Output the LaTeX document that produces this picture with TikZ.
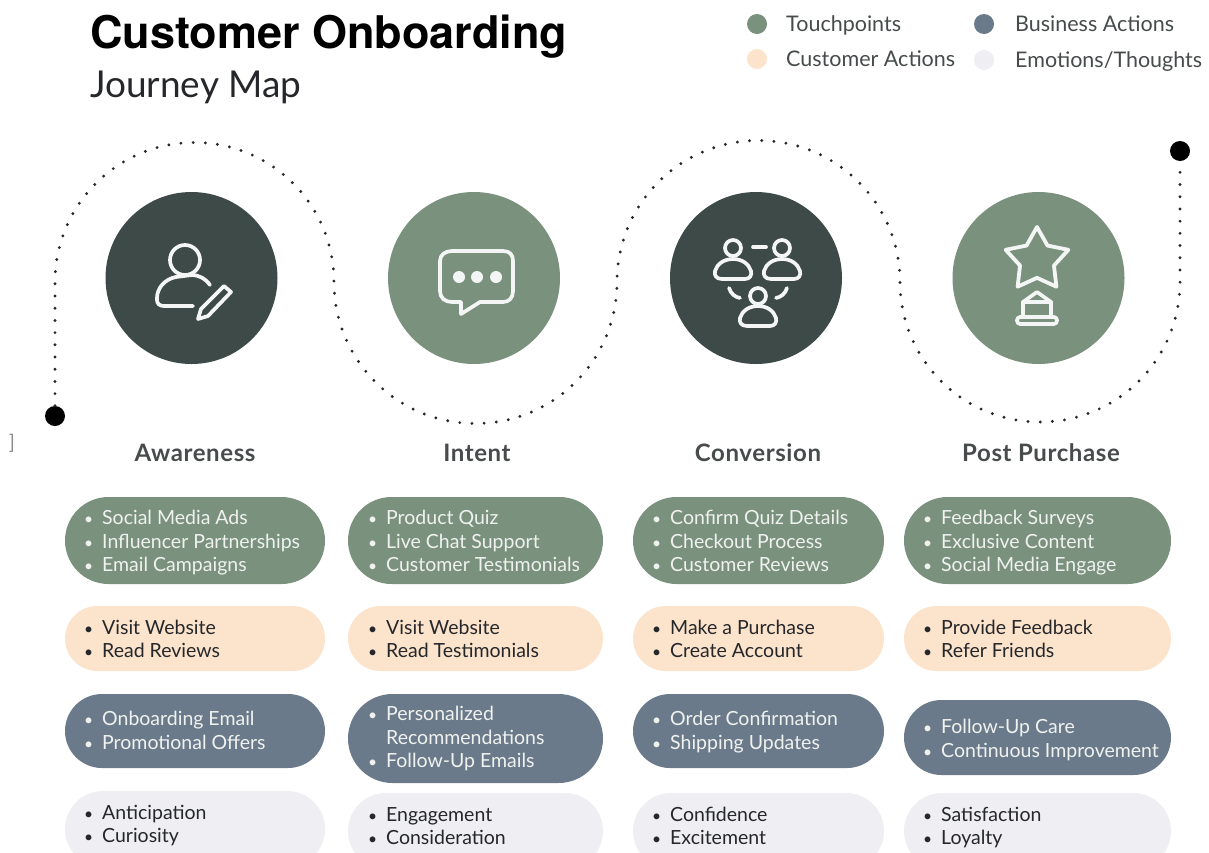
\documentclass[tikz,border=0pt]{standalone}
\usepackage{fontspec}
\setmainfont{Lato}
\newfontfamily\titlefont{TeX Gyre Heros}
\newfontfamily\headfont[LetterSpace=2.5]{Lato}
\usetikzlibrary{shapes.misc,shapes.geometric}
\definecolor{dark}{HTML}{3D4A48}
\definecolor{sage}{HTML}{7A917D}
\definecolor{slateb}{HTML}{6B7A8A}
\definecolor{peach}{HTML}{FBE3CC}
\definecolor{mist}{HTML}{EEEEF3}
\definecolor{ink}{HTML}{25272A}
\definecolor{head}{HTML}{474B4C}
\newcommand{\bl}{\strut\makebox[18pt][l]{\scalebox{0.8}{\textbullet}}}
\newcommand{\nb}{\strut\makebox[18pt][l]{}}
\tikzset{
  pill/.style={rounded rectangle,draw=none,inner sep=0pt},
  greenpill/.style={pill,fill=sage},
  peachpill/.style={pill,fill=peach},
  bluepill/.style={pill,fill=slateb},
  greypill/.style={pill,fill=mist},
  ltxt/.style={anchor=west,yshift=-2.7pt,align=left,inner sep=0pt,text=white!88!sage,font=\fontsize{19.5}{23.4}\selectfont},
  dtxt/.style={anchor=west,yshift=-2.7pt,align=left,inner sep=0pt,text=ink,font=\fontsize{19.5}{23.4}\selectfont},
  stage/.style={circle,draw=none,minimum size=172pt,inner sep=0pt},
  stagehead/.style={inner sep=0pt,yshift=-1pt,text=head,font=\fontsize{24}{28}\selectfont\headfont\bfseries},
  legdot/.style={circle,draw=none,minimum size=20pt,inner sep=0pt},
  legtxt/.style={anchor=west,yshift=-3pt,inner sep=0pt,text=head,font=\fontsize{21.5}{24}\selectfont\strut},
  enddot/.style={circle,fill=black,draw=none,minimum size=20pt,inner sep=0pt},
  icon/.style={draw=white!92!sage,line width=3.7pt,line cap=round,line join=round},
  trail/.style={draw=ink,line width=3.2pt,line cap=round,dash pattern=on 0pt off 12.2pt},
}
\begin{document}
\begin{tikzpicture}[x=1pt,y=-1pt]
\useasboundingbox (0,0) rectangle (1209,852);
\clip (0,0) rectangle (1209,852);
\fill[white] (0,0) rectangle (1209,852);

% titles
\node[anchor=base west,inner sep=0pt,text=black,font=\fontsize{45}{50}\selectfont\titlefont\bfseries] (title) at (90,48) {Customer Onboarding};
\node[anchor=base west,inner sep=0pt,text=ink,font=\fontsize{37}{40}\selectfont] (subtitle) at (90,97) {Journey Map};

% legend
\node[legdot,fill=sage] (l1) at (757,24) {};
\node[legdot,fill=peach] (l2) at (757,59) {};
\node[legdot,fill=slateb] (l3) at (984,24) {};
\node[legdot,fill=mist] (l4) at (984,60) {};
\node[legtxt] (l1t) at (786,24) {Touchpoints};
\node[legtxt] (l2t) at (786,59) {Customer Actions};
\node[legtxt] (l3t) at (1015,24) {Business Actions};
\node[legtxt] (l4t) at (1015,60) {Emotions/Thoughts};

% trail
\node[enddot] (start) at (55,416) {};
\node[enddot] (finish) at (1180,151) {};
\draw[trail] (start) -- (55,282) arc[start angle=180,end angle=360,radius=139.5]
  arc[start angle=180,end angle=0,radius=141.5]
  arc[start angle=180,end angle=360,radius=141.5]
  arc[start angle=180,end angle=0,radius=140]
  -- (finish);

% stage circles
\node[stage,fill=dark] (c1) at (191.5,278) {};
\node[stage,fill=sage] (c2) at (474,278) {};
\node[stage,fill=dark] (c3) at (756,278) {};
\node[stage,fill=sage] (c4) at (1038.5,278) {};

% icon 1: person with pen
\draw[icon] (185,260) circle[radius=15];
\draw[icon] (210,285) .. controls (205,278) and (198,275) .. (192,275) -- (176,277)
  .. controls (165,279) and (157,288) .. (157,298) -- (157,300) .. controls (157,304) and (160,306) .. (164,306) -- (193,306);
\draw[icon] (224,286) -- (231,292) -- (208,316) -- (198,319) -- (201,309) -- cycle;

% icon 2: chat bubble
\draw[icon] (452,251) -- (503,251) .. controls (510,251) and (513,255) .. (513,261) -- (513,291)
  .. controls (513,298) and (509,302) .. (503,302) -- (480,302) -- (461,314) -- (461,302) -- (452,302)
  .. controls (445,302) and (440,298) .. (440,291) -- (440,261) .. controls (440,255) and (445,251) .. (452,251) -- cycle;
\fill[white!92!sage] (459,277) circle[radius=6] (477,277) circle[radius=6] (496,277) circle[radius=6];

% icon 3: three people
\draw[icon] (733,248) circle[radius=8] (782,248) circle[radius=8] (758,296) circle[radius=8];
\draw[icon] (722,279) .. controls (716,279) and (714,275) .. (715,271) .. controls (717,264) and (724,259) .. (733,259)
  .. controls (742,259) and (749,264) .. (751,271) .. controls (752,275) and (750,279) .. (745,279) -- cycle;
\draw[icon] (771,279) .. controls (765,279) and (763,275) .. (764,271) .. controls (766,264) and (773,259) .. (782,259)
  .. controls (791,259) and (798,264) .. (800,271) .. controls (801,275) and (799,279) .. (794,279) -- cycle;
\draw[icon] (747,326) .. controls (741,326) and (739,322) .. (740,318) .. controls (742,311) and (749,306) .. (758,306)
  .. controls (767,306) and (774,311) .. (776,318) .. controls (777,322) and (775,326) .. (770,326) -- cycle;
\draw[icon] (753,247) -- (766,247);
\draw[icon] (729,288) .. controls (731,294) and (735,297) .. (740,298);
\draw[icon] (787,288) .. controls (785,294) and (781,297) .. (776,298);

% icon 4: star trophy
\node[star,star points=5,star point ratio=1.85,draw=white!92!sage,line width=3.8pt,line join=round,minimum size=66pt,inner sep=0pt] (st) at (1037,260) {};
\draw[icon] (1023,302) -- (1037,292) -- (1051,302) -- cycle;
\draw[icon] (1023,302) -- (1023,317) (1051,302) -- (1051,317);
\draw[icon] (1020,317) -- (1054,317) .. controls (1058,317) and (1058,324) .. (1054,324) -- (1020,324) .. controls (1016,324) and (1016,317) .. (1020,317) -- cycle;

% stage headings
\node[stagehead] (h1) at (195,452) {Awareness};
\node[stagehead] (h2) at (477,452) {Intent};
\node[stagehead] (h3) at (758,452) {Conversion};
\node[stagehead] (h4) at (1041,452) {Post Purchase};

% stray mark
\node[inner sep=0pt,text=black!45,font=\fontsize{20}{20}\selectfont] (mark) at (12,443) {]};

% column 1
\node[greenpill,minimum width=260pt,minimum height=87pt] (g1) at (195,540.5) {};
\node[peachpill,minimum width=260pt,minimum height=65pt] (p1) at (195,638.5) {};
\node[bluepill,minimum width=260pt,minimum height=74pt] (b1) at (195,731) {};
\node[greypill,minimum width=260pt,minimum height=76pt] (e1) at (195,829) {};
\node[ltxt] (g1t) at (84,541) {\bl Social Media Ads\\\bl Influencer Partnerships\\\bl Email Campaigns};
\node[dtxt] (p1t) at (84,638.5) {\bl Visit Website\\\bl Read Reviews};
\node[ltxt] (b1t) at (84,730) {\bl Onboarding Email\\\bl Promotional Offers};
\node[dtxt] (e1t) at (84,823.5) {\bl Anticipation\\\bl Curiosity};

% column 2
\node[greenpill,minimum width=255pt,minimum height=87pt] (g2) at (475.5,540.5) {};
\node[peachpill,minimum width=255pt,minimum height=65pt] (p2) at (475.5,638.5) {};
\node[bluepill,minimum width=255pt,minimum height=89pt] (b2) at (475.5,738.5) {};
\node[greypill,minimum width=255pt,minimum height=76pt] (e2) at (475.5,831) {};
\node[ltxt] (g2t) at (368,541) {\bl Product Quiz\\\bl Live Chat Support\\\bl Customer Testimonials};
\node[dtxt] (p2t) at (368,638.5) {\bl Visit Website\\\bl Read Testimonials};
\node[ltxt] (b2t) at (368,737) {\bl Personalized\\\nb Recommendations\\\bl Follow-Up Emails};
\node[dtxt] (e2t) at (368,825.5) {\bl Engagement\\\bl Consideration};

% column 3
\node[greenpill,minimum width=251pt,minimum height=87pt] (g3) at (758.5,540.5) {};
\node[peachpill,minimum width=251pt,minimum height=65pt] (p3) at (758.5,638.5) {};
\node[bluepill,minimum width=251pt,minimum height=74pt] (b3) at (758.5,731) {};
\node[greypill,minimum width=251pt,minimum height=76pt] (e3) at (758.5,831) {};
\node[ltxt] (g3t) at (652,541) {\bl Confirm Quiz Details\\\bl Checkout Process\\\bl Customer Reviews};
\node[dtxt] (p3t) at (652,638.5) {\bl Make a Purchase\\\bl Create Account};
\node[ltxt] (b3t) at (652,730) {\bl Order Confirmation\\\bl Shipping Updates};
\node[dtxt] (e3t) at (652,825.5) {\bl Confidence\\\bl Excitement};

% column 4
\node[greenpill,minimum width=267pt,minimum height=87pt] (g4) at (1037.5,540.5) {};
\node[peachpill,minimum width=267pt,minimum height=65pt] (p4) at (1037.5,638.5) {};
\node[bluepill,minimum width=267pt,minimum height=75pt] (b4) at (1037.5,737.5) {};
\node[greypill,minimum width=267pt,minimum height=76pt] (e4) at (1037.5,831) {};
\node[ltxt] (g4t) at (923,541) {\bl Feedback Surveys\\\bl Exclusive Content\\\bl Social Media Engage};
\node[dtxt] (p4t) at (923,638.5) {\bl Provide Feedback\\\bl Refer Friends};
\node[ltxt] (b4t) at (923,738) {\bl Follow-Up Care\\\bl Continuous Improvement};
\node[dtxt] (e4t) at (923,825.5) {\bl Satisfaction\\\bl Loyalty};
\end{tikzpicture}
\end{document}
